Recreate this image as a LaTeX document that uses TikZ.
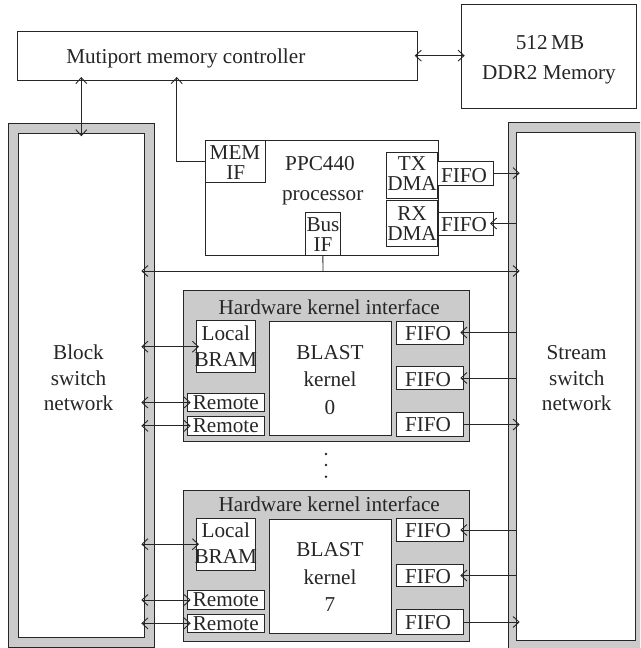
\documentclass[tikz,border=0pt]{standalone}
\usepackage{fontspec}
\setmainfont{Liberation Serif}
\usetikzlibrary{arrows.meta,fit}
\definecolor{ln}{HTML}{262626}
\definecolor{gf}{HTML}{CBCBCB}
\begin{document}
\begin{tikzpicture}[x=1pt,y=-1pt,
  box/.style={draw=ln,line width=0.9pt,fill=white,inner sep=0pt,outer sep=0pt},
  gbox/.style={box,fill=gf},
  txt/.style={inner sep=0pt,anchor=base,font=\fontsize{21.2}{25}\selectfont,text=ln},
  barb/.tip={Straight Barb[length=6pt,width=11pt]},
  wire/.style={draw=ln,line width=0.9pt},
  arr/.style={wire,-barb,shorten >=-3pt},
  darr/.style={wire,barb-barb,shorten >=-3pt,shorten <=-3pt}]
\fill[white] (0,0) rectangle (640,648);
\clip (0,0) rectangle (640,648);
% memory controller and DDR2
\node[box,fit={(17.7,31.3) (417.7,80)}] (mc) {};
\node[txt] (mct) at (185.8,63.3) {Mutiport memory controller};
\node[box,fit={(461.7,4.7) (636.7,108.3)}] (ddr) {};
\node[txt] (ddrt1) at (550,49.3) {512\,MB};
\node[txt] (ddrt2) at (549,79.3) {DDR2 Memory};
% switch networks
\node[gbox,fit={(8.3,123.3) (154.3,647.3)}] (lbo) {};
\node[box,fit={(18.3,133.3) (144.3,637.3)}] (lbi) {};
\node[txt] (lbt1) at (78.5,359.3) {Block};
\node[txt] (lbt2) at (78.5,385.5) {switch};
\node[txt] (lbt3) at (78.5,410) {network};
\node[gbox,fit={(508.3,122.7) (646,650)}] (rbo) {};
\node[box,fit={(516.7,132.3) (635.7,640)}] (rbi) {};
\node[txt] (rbt1) at (576.7,359.3) {Stream};
\node[txt] (rbt2) at (576.7,385.5) {switch};
\node[txt] (rbt3) at (576.7,410) {network};
% processor
\node[box,fit={(205.7,140) (438.3,255.3)}] (ppc) {};
\node[txt] (ppct1) at (320,170) {PPC440};
\node[txt] (ppct2) at (322.7,200) {processor};
\node[box,fit={(205.7,140) (265.7,182.7)}] (memif) {};
\node[txt] (memift1) at (235,159.6) {MEM};
\node[txt] (memift2) at (235.7,179.8) {IF};
\node[box,fit={(386,152.3) (437.7,198.3)}] (txdma) {};
\node[txt] (txt1) at (412,170.7) {TX};
\node[txt] (txt2) at (412,190.9) {DMA};
\node[box,fit={(386,200.7) (437.7,246)}] (rxdma) {};
\node[txt] (rxt1) at (412,220) {RX};
\node[txt] (rxt2) at (412,240.5) {DMA};
\node[box,fit={(437.7,161.3) (493.3,185)}] (txfifo) {};
\node[txt] (txfifot) at (464,182) {FIFO};
\node[box,fit={(438,212) (493,235)}] (rxfifo) {};
\node[txt] (rxfifot) at (464,231) {FIFO};
\node[box,fit={(305,212.7) (340.8,255.7)}] (busif) {};
\node[txt] (busift1) at (323,231.2) {Bus};
\node[txt] (busift2) at (323,251.6) {IF};
\coordinate (busj) at (323,271);
% hardware kernel interfaces
\foreach \ka/\da/\db in {0/0/0,7/197.5/199.5}{
  \node[gbox,fit={(183.3,290.7+\db) (469.3,441.7+\db)}] (hki\ka) {};
  \node[txt] (hkit\ka) at (329.2,314+\da) {Hardware kernel interface};
  \node[box,fit={(196,320.7+\da) (255.7,372.7+\da)}] (bram\ka) {};
  \node[txt] (bramta\ka) at (225.8,340+\da) {Local};
  \node[txt] (bramtb\ka) at (225.8,366+\da) {BRAM};
  \node[box,fit={(269.3,321.7+\da) (391.3,435.7+\da)}] (blast\ka) {};
  \node[txt] (blastta\ka) at (330,359+\da) {BLAST};
  \node[txt] (blasttb\ka) at (330,386.5+\da) {kernel};
  \node[txt] (blasttc\ka) at (330,414+\da) {\ka};
  \node[box,fit={(187.7,393.3+\da) (264,411.7+\da)}] (rema\ka) {};
  \node[txt] (remta\ka) at (225.8,409.3+\da) {Remote};
  \node[box,fit={(187.7,416.7+\da) (264,435+\da)}] (remb\ka) {};
  \node[txt] (remtb\ka) at (225.8,432.7+\da) {Remote};
  \node[box,fit={(396,321+\da) (463.3,344+\da)}] (fa\ka) {};
  \node[txt] (fta\ka) at (428,340+\da) {FIFO};
  \node[box,fit={(396,366.7+\da) (463.3,389.3+\da)}] (fb\ka) {};
  \node[txt] (ftb\ka) at (428,386+\da) {FIFO};
  \node[box,fit={(396,412.3+\da) (463.3,436.7+\da)}] (fc\ka) {};
  \node[txt] (ftc\ka) at (428,431.7+\da) {FIFO};
  \draw[darr] (bram\ka.west -| lbi.east) -- (bram\ka.west);
  \draw[darr] (rema\ka.west -| lbi.east) -- (rema\ka.west);
  \draw[darr] (remb\ka.west -| lbi.east) -- (remb\ka.west);
  \draw[arr] (fa\ka.east -| rbi.west) -- (fa\ka.east);
  \draw[arr] (fb\ka.east -| rbi.west) -- (fb\ka.east);
  \draw[arr] (fc\ka.east) -- (fc\ka.east -| rbi.west);
}
% dots
\foreach \yy in {454,465,476.7} \fill[ln] (326,\yy) circle (1.3pt);
% connectors
\draw[darr] (mc.east) -- (mc.east -| ddr.west);
\draw[darr] (lbi.north) -- (lbi.north |- mc.south);
\draw[arr] (memif.west) -| ([xshift=159pt]mc.south west);
\draw[wire] (busif.south) -- (busj);
\draw[darr] (lbi.east |- busj) -- (rbi.west |- busj);
\draw[arr] (txfifo.east) -- (txfifo.east -| rbi.west);
\draw[arr] (rxfifo.east -| rbi.west) -- (rxfifo.east);
\end{tikzpicture}
\end{document}
